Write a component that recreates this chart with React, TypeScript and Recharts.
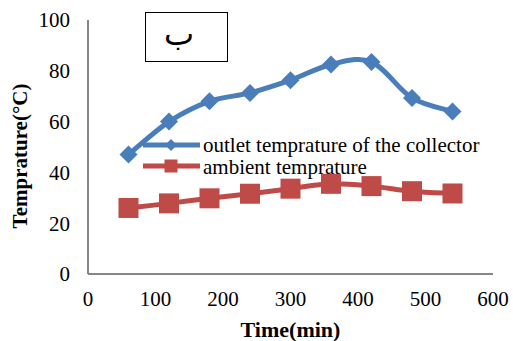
import React from 'react'
import { LineChart, Line, XAxis, YAxis, Legend } from 'recharts'

// time (min) and temperatures
const times = [60, 120, 180, 240, 300, 360, 420, 480, 540]
const outlet = [47, 60, 68, 71.3, 76.3, 82.5, 83.5, 69.3, 64]
const ambient = [26, 27.8, 29.8, 31.6, 33.6, 35.5, 34.6, 32.6, 31.7]
const xTicks = [0, 100, 200, 300, 400, 500, 600]
const yTicks = [0, 20, 40, 60, 80, 100]

const BLUE = '#4a7ebb'
const RED = '#be4b48'
const FONT = '"Liberation Serif", "Times New Roman", serif'

const data = times.map((t, i) => ({ t, outlet: outlet[i], ambient: ambient[i] }))

// excel-like smoothed line (catmull-rom through the points)
const smoothCurve = (context: any) => {
  let pts: number[][] = []
  return {
    areaStart() {},
    areaEnd() {},
    lineStart() {
      pts = []
    },
    point(x: number, y: number) {
      pts.push([x, y])
    },
    lineEnd() {
      if (!pts.length) return
      context.moveTo(pts[0][0], pts[0][1])
      for (let i = 0; i < pts.length - 1; i++) {
        const p0 = pts[Math.max(i - 1, 0)]
        const p1 = pts[i]
        const p2 = pts[i + 1]
        const p3 = pts[Math.min(i + 2, pts.length - 1)]
        context.bezierCurveTo(
          p1[0] + (p2[0] - p0[0]) / 6,
          p1[1] + (p2[1] - p0[1]) / 6,
          p2[0] - (p3[0] - p1[0]) / 6,
          p2[1] - (p3[1] - p1[1]) / 6,
          p2[0],
          p2[1]
        )
      }
    }
  }
}

const Diamond = ({ cx, cy, r }: any) => (
  <polygon
    points={`${cx},${cy - r} ${cx + r},${cy} ${cx},${cy + r} ${cx - r},${cy}`}
    fill={BLUE}
  />
)

const Square = ({ cx, cy, s }: any) => (
  <rect x={cx - s / 2} y={cy - s / 2} width={s} height={s} fill={RED} />
)

const LegendBox = () => (
  <svg width={370} height={50} style={{ overflow: 'visible' }}>
    <line x1={13} y1={12} x2={70} y2={12} stroke={BLUE} strokeWidth={5} />
    <Diamond cx={41} cy={12} r={6} />
    <text x={73} y={19} fontSize={21} fontFamily={FONT} fill="#000">
      outlet temprature of the collector
    </text>
    <line x1={13} y1={33} x2={70} y2={33} stroke={RED} strokeWidth={5} />
    <Square cx={41} cy={33} s={13} />
    <text x={73} y={41} fontSize={21} fontFamily={FONT} fill="#000">
      ambient temprature
    </text>
  </svg>
)

const YLabel = ({ viewBox }: any) => {
  const cx = 20
  const cy = viewBox.y + viewBox.height / 2 + 9
  return (
    <text
      x={cx}
      y={cy}
      transform={`rotate(-90, ${cx}, ${cy})`}
      textAnchor="middle"
      dominantBaseline="central"
      fontSize={21}
      fontWeight="bold"
      fontFamily={FONT}
      fill="#000"
    >
      Temprature(°C)
    </text>
  )
}

export default function App() {
  const tickStyle = { fontSize: 21, fontFamily: FONT, fill: '#000' }
  return (
    <div style={{ position: 'absolute', left: 0, top: 0, width: 513, height: 341, background: '#fff' }}>
      <LineChart
        width={513}
        height={341}
        data={data}
        margin={{ top: 20, right: 20, bottom: 0, left: 0 }}
      >
        <XAxis
          dataKey="t"
          type="number"
          domain={[0, 600]}
          ticks={xTicks}
          height={67}
          tickLine={false}
          tickSize={0}
          tickMargin={17}
          stroke="#868686"
          strokeWidth={2}
          tick={tickStyle}
          label={{
            value: 'Time(min)',
            position: 'insideBottom',
            offset: 4,
            style: { fontSize: 22, fontWeight: 'bold', fontFamily: FONT, fill: '#000' }
          }}
        />
        <YAxis
          type="number"
          domain={[0, 100]}
          ticks={yTicks}
          width={88}
          tickLine={false}
          tickSize={0}
          tickMargin={18}
          stroke="#868686"
          strokeWidth={2}
          tick={tickStyle}
          label={{ content: (p: any) => <YLabel {...p} /> }}
        />
        <Legend
          layout="vertical"
          align="center"
          verticalAlign="middle"
          content={() => <LegendBox />}
          wrapperStyle={{ position: 'absolute', left: 130, top: 133, width: 370, height: 50 }}
        />
        <Line
          dataKey="ambient"
          type={smoothCurve as any}
          stroke={RED}
          strokeWidth={5}
          dot={(p: any) => <Square key={p.index} cx={p.cx} cy={p.cy} s={20} />}
          activeDot={false}
          isAnimationActive={false}
        />
        <Line
          dataKey="outlet"
          type={smoothCurve as any}
          stroke={BLUE}
          strokeWidth={5}
          dot={(p: any) => <Diamond key={p.index} cx={p.cx} cy={p.cy} r={9} />}
          activeDot={false}
          isAnimationActive={false}
        />
      </LineChart>
      <div
        style={{
          position: 'absolute',
          left: 145,
          top: 12,
          width: 81,
          height: 48,
          border: '1.5px solid #000',
          background: '#fff'
        }}
      >
        <span
          style={{
            position: 'absolute',
            left: 18,
            top: 1,
            fontSize: 32,
            lineHeight: '40px',
            fontFamily: '"DejaVu Sans", sans-serif'
          }}
        >
          ب
        </span>
      </div>
    </div>
  )
}
